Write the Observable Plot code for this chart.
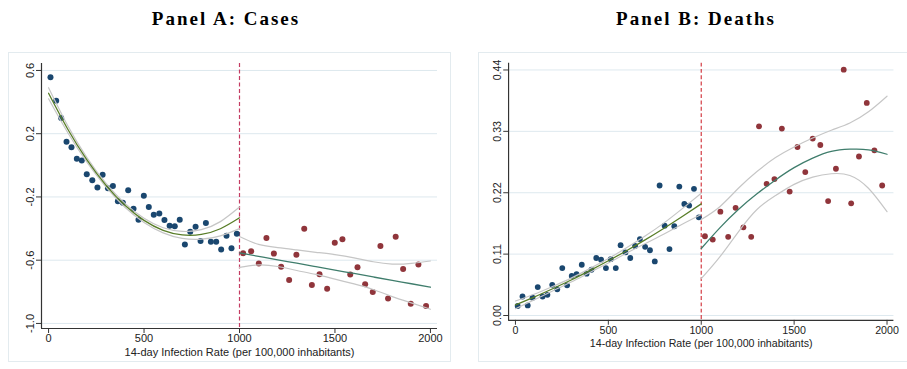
<!DOCTYPE html>
<html><head><meta charset="utf-8">
<script src="https://cdn.jsdelivr.net/npm/d3@7"></script>
<script src="https://cdn.jsdelivr.net/npm/@observablehq/plot@0.6"></script>
<style>
body{margin:0;width:907px;height:369px;overflow:hidden;background:#fff;position:relative;font-family:"Liberation Sans",Arial,sans-serif}
.title{position:absolute;top:8px;font-family:"Liberation Serif","Times New Roman",serif;font-weight:bold;font-size:19px;letter-spacing:2px;white-space:nowrap;transform:translateX(-50%);color:#000}
.chart{position:absolute;top:52px}
.box{position:absolute;top:52px;height:308px;border:1px solid #e3ebef;pointer-events:none;background:transparent}
</style></head><body>
<div class="title" style="left:226px">Panel A: Cases</div>
<div class="title" style="left:696px">Panel B: Deaths</div>
<div id="a" class="chart" style="left:8px"></div>
<div id="b" class="chart" style="left:478px"></div>
<div class="box" style="left:8px;width:441px"></div>
<div class="box" style="left:478px;width:440px"></div>
<script>
const xTicks = [0, 500, 1000, 1500, 2000];
const xLabel = "14-day Infection Rate (per 100,000 inhabitants)";
const cutoff = 1000;

// Panel A: Cases
const aTicks = [0.6, 0.2, -0.2, -0.6, -1.0];
const aBlueX = [10,40,66,94,120,148,174,200,229,256,283,311,337,363,389,417,445,471,499,525,551,580,607,634,661,687,714,742,770,796,824,850,878,904,932,958,986];
const aBlueY = [0.557,0.408,0.30,0.149,0.115,0.041,0.030,-0.056,-0.094,-0.141,-0.060,-0.145,-0.130,-0.227,-0.236,-0.158,-0.274,-0.344,-0.192,-0.264,-0.312,-0.304,-0.346,-0.382,-0.386,-0.344,-0.501,-0.420,-0.388,-0.479,-0.365,-0.484,-0.484,-0.532,-0.446,-0.524,-0.433];
const aRedX = [1019,1061,1101,1141,1180,1218,1260,1298,1339,1379,1419,1459,1499,1539,1580,1618,1658,1698,1738,1778,1818,1857,1897,1937,1977];
const aRedY = [-0.556,-0.543,-0.621,-0.460,-0.558,-0.642,-0.725,-0.566,-0.401,-0.757,-0.689,-0.780,-0.490,-0.467,-0.691,-0.644,-0.752,-0.801,-0.511,-0.843,-0.452,-0.655,-0.875,-0.627,-0.890];

const fitXL = [0,100,200,300,400,500,600,700,800,900,1000];
const fitXR = [1000,1100,1200,1300,1400,1500,1600,1700,1800,1900,2000];
const aFitL = [0.456,0.230,0.036,-0.125,-0.253,-0.348,-0.411,-0.440,-0.437,-0.401,-0.332];
const aUpL  = [0.491,0.252,0.051,-0.113,-0.241,-0.335,-0.395,-0.418,-0.407,-0.356,-0.264];
const aLoL  = [0.421,0.208,0.021,-0.137,-0.265,-0.361,-0.427,-0.462,-0.467,-0.446,-0.400];
const aFitR = [-0.554,-0.576,-0.598,-0.619,-0.641,-0.663,-0.684,-0.706,-0.728,-0.749,-0.771];
const aUpR  = [-0.450,-0.500,-0.520,-0.535,-0.550,-0.565,-0.585,-0.610,-0.625,-0.620,-0.605];
const aLoR  = [-0.645,-0.630,-0.640,-0.665,-0.690,-0.720,-0.750,-0.785,-0.830,-0.870,-0.910];

// Panel B: Deaths
const bTicks = [0.44, 0.33, 0.22, 0.11, 0.00];
const bBlueX = [12,38,66,92,120,146,172,198,225,252,278,303,329,357,383,409,435,461,487,513,540,566,592,618,644,670,698,724,750,776,803,829,855,882,909,935,961,987];
const bBlueY = [0.017,0.034,0.018,0.032,0.051,0.034,0.037,0.055,0.047,0.085,0.054,0.071,0.074,0.091,0.075,0.082,0.103,0.100,0.085,0.101,0.085,0.126,0.113,0.103,0.1245,0.137,0.123,0.117,0.097,0.233,0.161,0.119,0.160,0.231,0.200,0.197,0.227,0.176];
const bRedX = [1020,1062,1103,1145,1185,1227,1269,1311,1352,1394,1434,1476,1518,1560,1600,1641,1683,1725,1767,1807,1849,1891,1932,1974];
const bRedY = [0.142,0.136,0.186,0.141,0.193,0.158,0.141,0.339,0.236,0.2445,0.335,0.222,0.302,0.257,0.317,0.3056,0.205,0.263,0.4406,0.201,0.285,0.381,0.296,0.233];
const bFitL = [0.019,0.033,0.048,0.0636,0.0804,0.098,0.1166,0.136,0.1564,0.1778,0.200];
const bUpL  = [0.026,0.038,0.052,0.067,0.084,0.102,0.122,0.143,0.166,0.192,0.219];
const bLoL  = [0.012,0.028,0.044,0.060,0.077,0.094,0.112,0.129,0.146,0.164,0.181];
const bFitR = [0.120,0.157,0.190,0.218,0.243,0.265,0.282,0.294,0.298,0.297,0.289];
const bUpR  = [0.172,0.195,0.228,0.258,0.283,0.302,0.318,0.332,0.345,0.365,0.393];
const bLoR  = [0.066,0.105,0.150,0.190,0.215,0.235,0.248,0.254,0.251,0.228,0.186];

function panel(o) {
  const ci = {stroke: "#c6c6c6", strokeWidth: 1.2, curve: "natural"};
  return Plot.plot({
    width: o.width, height: 310,
    marginLeft: o.ml, marginRight: 14, marginTop: 11, marginBottom: 34,
    style: {background: "transparent", fontFamily: "'Liberation Sans', Arial, sans-serif", fontSize: "11px", color: "#222", overflow: "visible"},
    x: {domain: [-37, 2037]},
    y: {domain: o.yDomain},
    marks: [
      Plot.gridY(o.yTicks, {stroke: "#dde8ee", strokeOpacity: 1, strokeWidth: 1}),
      Plot.ruleX([cutoff], {stroke: o.cutColor, strokeDasharray: "4,2.5", strokeWidth: 1.2}),
      Plot.dot(o.blueX, {x: o.blueX, y: o.blueY, r: 3, fill: "#1a476f", stroke: null}),
      Plot.dot(o.redX, {x: o.redX, y: o.redY, r: 3, fill: "#90353b", stroke: null}),
      Plot.line(fitXL, {x: fitXL, y: o.upL, ...ci}),
      Plot.line(fitXL, {x: fitXL, y: o.loL, ...ci}),
      Plot.line(fitXR, {x: fitXR, y: o.upR, ...ci}),
      Plot.line(fitXR, {x: fitXR, y: o.loR, ...ci}),
      Plot.line(fitXL, {x: fitXL, y: o.fitL, stroke: "#587d27", strokeWidth: 1.3, curve: "natural"}),
      Plot.line(fitXR, {x: fitXR, y: o.fitR, stroke: "#3f7d6c", strokeWidth: 1.3, curve: "natural"}),
      Plot.ruleY([o.yDomain[0]], {stroke: "#333", strokeWidth: 1.2}),
      Plot.ruleX([-37], {stroke: "#333", strokeWidth: 1.2}),
      Plot.axisX(xTicks, {tickSize: 5, tickPadding: 1, label: null, tickFormat: d => String(d), stroke: "#333", fill: "#222", fontSize: 11}),
      Plot.axisY(o.yTicks, {tickSize: 5, tickPadding: 3, label: null, tickFormat: o.fmt, tickRotate: -90, textAnchor: "middle", lineAnchor: "bottom", stroke: "#333", fill: "#222", fontSize: 11}),
      Plot.text([xLabel], {frameAnchor: "bottom", dy: 27, fontSize: 11, fill: "#222"})
    ]
  });
}

document.getElementById("a").append(panel({
  width: 443, ml: 33, yDomain: [-1.032, 0.644], yTicks: aTicks, fmt: d => d.toFixed(1), cutColor: "#c43c62",
  blueX: aBlueX, blueY: aBlueY, redX: aRedX, redY: aRedY,
  fitL: aFitL, upL: aUpL, loL: aLoL, fitR: aFitR, upR: aUpR, loR: aLoR
}));
document.getElementById("b").append(panel({
  width: 442, ml: 31, yDomain: [-0.0087, 0.4522], yTicks: bTicks, fmt: d => d.toFixed(2), cutColor: "#d2383f",
  blueX: bBlueX, blueY: bBlueY, redX: bRedX, redY: bRedY,
  fitL: bFitL, upL: bUpL, loL: bLoL, fitR: bFitR, upR: bUpR, loR: bLoR
}));
</script>
</body></html>
